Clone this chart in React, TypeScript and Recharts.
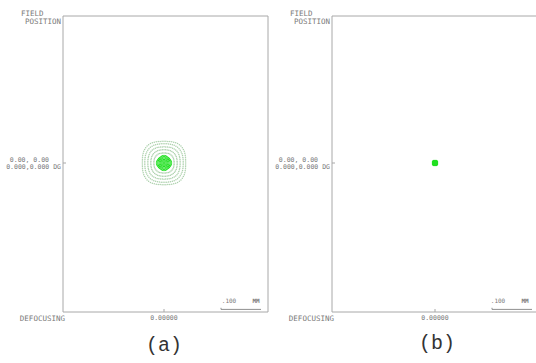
import { ScatterChart, Scatter, XAxis, YAxis, ReferenceLine } from "recharts";

// spot diagram (a): hexapolar ray rings, radius in mm, 4-fold lobe factor
const ringRaysA = [1, 6, 12, 18, 24, 30, 36, 44, 52, 60, 66, 72];
const ringRadiiA = [0, 0.003, 0.006, 0.009, 0.012, 0.015, 0.018, 0.026, 0.034, 0.042, 0.05, 0.057];
const ringLobeA = [0, 0, 0, 0.02, 0.03, 0.04, 0.04, -0.03, -0.03, -0.04, -0.04, -0.05];

// spot diagram (b): nearly perfect focus
const ringRaysB = [1, 6, 12];
const ringRadiiB = [0, 0.0015, 0.003];
const ringLobeB = [0, 0.05, 0.1];

const coreLimit = 0.02; // mm
const scaleBar = { x0: 0.1425, x1: 0.2425, y: -0.366 }; // .100 MM
const xTickLabel = "0.00000";
const fieldLabel = ["0.00, 0.00", "0.000,0.000 DG"];

type Pt = { x: number; y: number };

function rays(counts: number[], radii: number[], lobes: number[]) {
  const core: Pt[] = [];
  const halo: Pt[] = [];
  counts.forEach((n, i) => {
    for (let j = 0; j < n; j++) {
      const t = (2 * Math.PI * j) / n;
      const r = radii[i] * (1 + lobes[i] * Math.cos(4 * t));
      const p = { x: r * Math.cos(t), y: r * Math.sin(t) };
      (radii[i] < coreLimit ? core : halo).push(p);
    }
  });
  return { core, halo };
}

const spotA = rays(ringRaysA, ringRadiiA, ringLobeA);
const spotB = rays(ringRaysB, ringRadiiB, ringLobeB);

const mono = "'DejaVu Sans Mono', monospace";
const frame = "#a8a8a8";
const txt = "#7a7a7a";
const yDomain: [number, number] = [-0.3725, 0.3675];

interface PanelProps {
  left: number;
  yAxisWidth: number;
  width: number;
  xDomain: [number, number];
  core: Pt[];
  halo: Pt[];
  dotSize: number;
  square?: boolean;
}

function Panel({ left, yAxisWidth, width, xDomain, core, halo, dotSize, square }: PanelProps) {
  const dot = (fill: string) => (p: any) =>
    square ? (
      <rect x={p.cx - dotSize} y={p.cy - dotSize} width={dotSize * 2} height={dotSize * 2} fill={fill} />
    ) : (
      <circle cx={p.cx} cy={p.cy} r={dotSize} fill={fill} />
    );
  return (
    <div style={{ position: "absolute", left, top: 0 }}>
      <ScatterChart width={width} height={363} margin={{ top: 12, right: 0, bottom: 31, left: 0 }}>
        <XAxis
          xAxisId="bottom"
          type="number"
          dataKey="x"
          domain={xDomain}
          allowDataOverflow
          ticks={[0]}
          tickSize={-3}
          tickMargin={0}
          height={20}
          stroke={frame}
          tick={(p: any) => (
            <text x={p.x} y={p.y + 11} textAnchor="middle" fontSize={6.5} fontFamily={mono} fill={txt}>
              {xTickLabel}
            </text>
          )}
        />
        <XAxis
          xAxisId="top"
          orientation="top"
          type="number"
          dataKey="x"
          domain={xDomain}
          allowDataOverflow
          ticks={[0]}
          tickSize={-3}
          height={4}
          stroke={frame}
          tick={false}
        />
        <YAxis
          yAxisId="left"
          type="number"
          dataKey="y"
          domain={yDomain}
          allowDataOverflow
          ticks={[0]}
          tickSize={-3}
          tickMargin={0}
          width={yAxisWidth}
          stroke={frame}
          tick={(p: any) => (
            <text fontSize={6.5} fontFamily={mono} fill={txt} textAnchor="end">
              <tspan x={p.x - 17} y={p.y - 1}>{fieldLabel[0]}</tspan>
              <tspan x={p.x - 5} y={p.y + 6}>{fieldLabel[1]}</tspan>
            </text>
          )}
        />
        <YAxis
          yAxisId="right"
          orientation="right"
          type="number"
          dataKey="y"
          domain={yDomain}
          allowDataOverflow
          ticks={[0]}
          tickSize={-3}
          width={4}
          stroke={frame}
          tick={false}
        />
        <Scatter xAxisId="bottom" yAxisId="left" data={halo} isAnimationActive={false} shape={dot("#abd0ab")} />
        <Scatter xAxisId="bottom" yAxisId="left" data={core} isAnimationActive={false} shape={dot("#22e022")} />
        <ReferenceLine
          xAxisId="bottom"
          yAxisId="left"
          segment={[{ x: scaleBar.x0, y: scaleBar.y }, { x: scaleBar.x1, y: scaleBar.y }]}
          stroke="#909090"
        />
        <ReferenceLine
          xAxisId="bottom"
          yAxisId="left"
          segment={[{ x: scaleBar.x0, y: scaleBar.y }, { x: scaleBar.x0, y: scaleBar.y + 0.004 }]}
          stroke="#909090"
        />
      </ScatterChart>
    </div>
  );
}

function Labels({ frameLeft, center, caption, capY }: { frameLeft: number; center: number; caption: string; capY: number }) {
  return (
    <g fontFamily={mono} fill={txt}>
      <text x={frameLeft - 42} y={16} fontSize={7.5}>FIELD</text>
      <text x={frameLeft - 2} y={24} fontSize={7.5} textAnchor="end">POSITION</text>
      <text x={frameLeft + 2} y={321} fontSize={7.5} textAnchor="end">DEFOCUSING</text>
      <text x={frameLeft + 166} y={303} fontSize={6} textAnchor="middle">.100</text>
      <text x={frameLeft + 193} y={303} fontSize={6} textAnchor="middle" fontWeight="bold">MM</text>
      <text x={center} y={capY} fontSize={20} textAnchor="middle" fill="#333" fontFamily="'Liberation Mono', monospace">
        {caption}
      </text>
    </g>
  );
}

export default function App() {
  return (
    <div style={{ position: "fixed", left: 0, top: 0, width: 536, height: 363, overflow: "hidden", background: "#fff" }}>
      <Panel left={0} yAxisWidth={63} width={272} xDomain={[-0.2525, 0.26]} core={spotA.core} halo={spotA.halo} dotSize={0.75} />
      <Panel left={266} yAxisWidth={66} width={275} xDomain={[-0.2575, 0.255]} core={spotB.core} halo={spotB.halo} dotSize={1.8} square />
      <svg width={536} height={363} style={{ position: "absolute", left: 0, top: 0, pointerEvents: "none" }}>
        <Labels frameLeft={63} center={164} caption="(a)" capY={351} />
        <Labels frameLeft={332} center={437} caption="(b)" capY={349} />
      </svg>
    </div>
  );
}
